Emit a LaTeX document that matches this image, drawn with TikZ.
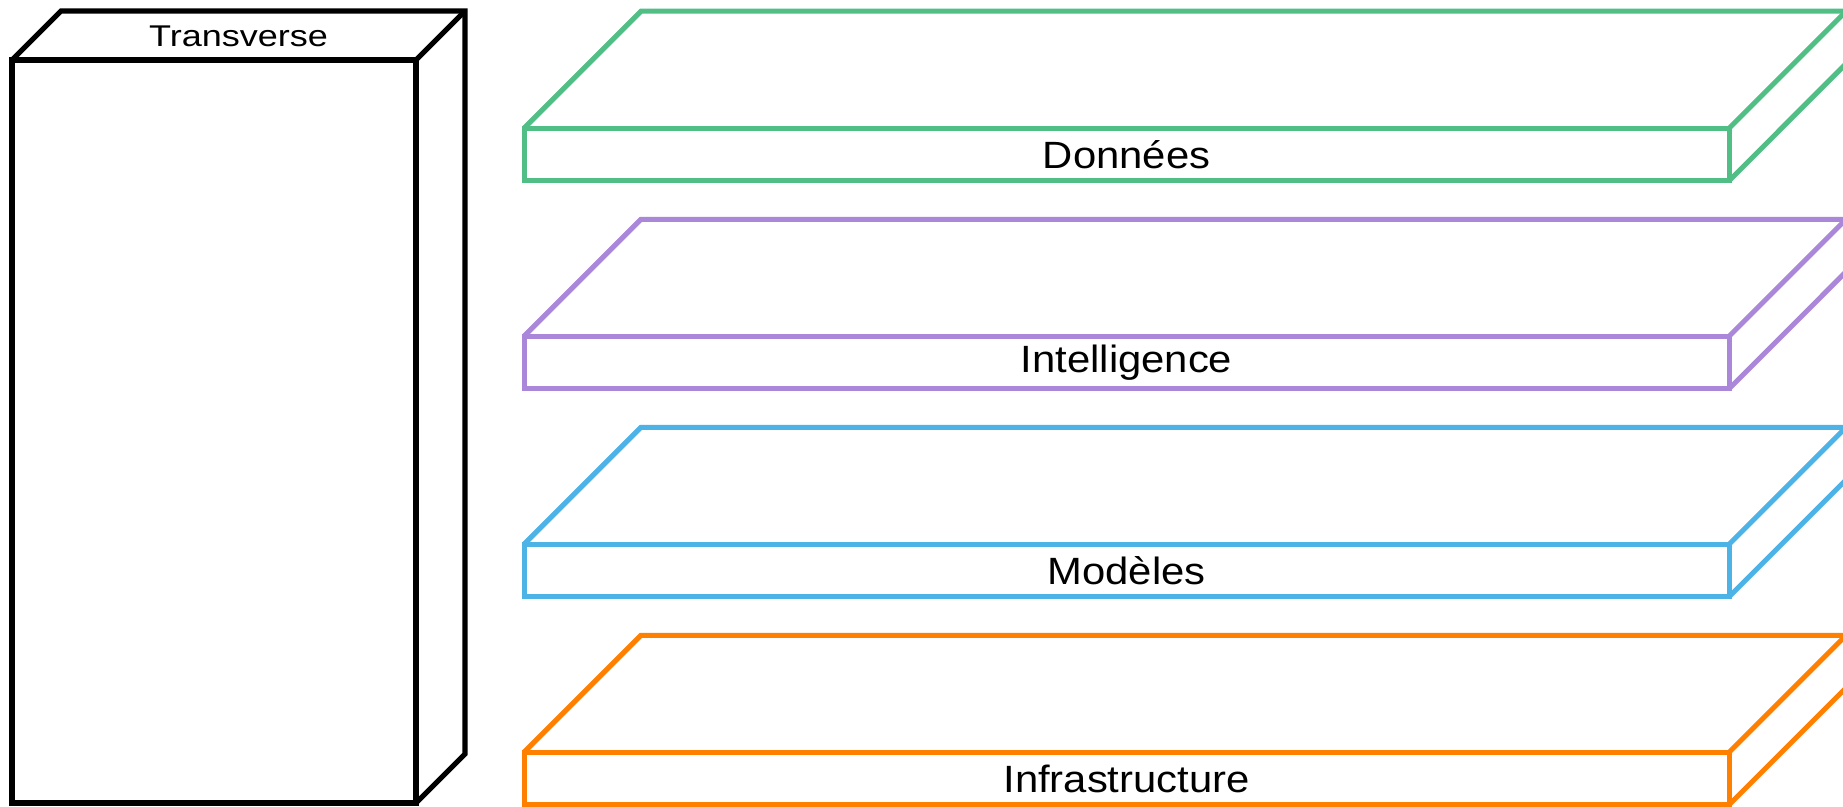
\documentclass[tikz,border=0pt]{standalone}
\usepackage{fontspec}
\setmainfont{Liberation Sans}
\newfontfamily\layerfont[FakeStretch=1.1]{Liberation Sans}
\newfontfamily\sidefont[FakeStretch=1.2]{Liberation Sans}
\usetikzlibrary{positioning}
\definecolor{datagreen}{RGB}{80,190,133}
\definecolor{intelpurple}{RGB}{171,135,217}
\definecolor{modelblue}{RGB}{77,179,230}
\definecolor{infraorange}{RGB}{255,127,0}

\begin{document}
\begin{tikzpicture}[
        x=0.4pt, y=-0.4pt,
        line width=2pt,
        front/.style={draw, line width=2pt, minimum width=482pt, minimum height=21pt, inner sep=0pt, outer sep=0pt, font=\layerfont\fontsize{15.2}{17}\selectfont},
        pillar/.style={draw, line width=2.1pt, minimum width=161.6pt, minimum height=297.2pt, inner sep=0pt, outer sep=0pt},
    ]
    \clip (0,0) rectangle (1843,806);

    % Transverse block
    \node[pillar] (pillarfront) at (214,431.5) {};
    \draw[line width=2.1pt] (pillarfront.north west) -- ++(49,-49) -- ++(404,0) -- ++(0,743) -- (pillarfront.south east);
    \draw[line width=2.1pt] (pillarfront.north east) -- ++(49,-49);
    \node[font=\sidefont\fontsize{12}{14}\selectfont] (transverse) at (238.5,36) {Transverse};

    % Layers
    \node[front, draw=datagreen] (donnees) at (1126.5,154.5) {Données};
    \node[front, draw=intelpurple, below=62.2pt of donnees] (intelligence) {Intelligence};
    \node[front, draw=modelblue, below=62.2pt of intelligence] (modeles) {Modèles};
    \node[front, draw=infraorange, below=62.2pt of modeles] (infra) {Infrastructure};

    % Top and side faces
    \draw[datagreen] (donnees.north west) -- ++(117,-117) -- ++(1205,0) -- ++(0,52.5) -- (donnees.south east);
    \draw[datagreen] (donnees.north east) -- ++(117,-117);
    \draw[intelpurple] (intelligence.north west) -- ++(117,-117) -- ++(1205,0) -- ++(0,52.5) -- (intelligence.south east);
    \draw[intelpurple] (intelligence.north east) -- ++(117,-117);
    \draw[modelblue] (modeles.north west) -- ++(117,-117) -- ++(1205,0) -- ++(0,52.5) -- (modeles.south east);
    \draw[modelblue] (modeles.north east) -- ++(117,-117);
    \draw[infraorange] (infra.north west) -- ++(117,-117) -- ++(1205,0) -- ++(0,52.5) -- (infra.south east);
    \draw[infraorange] (infra.north east) -- ++(117,-117);

\end{tikzpicture}
\end{document}
